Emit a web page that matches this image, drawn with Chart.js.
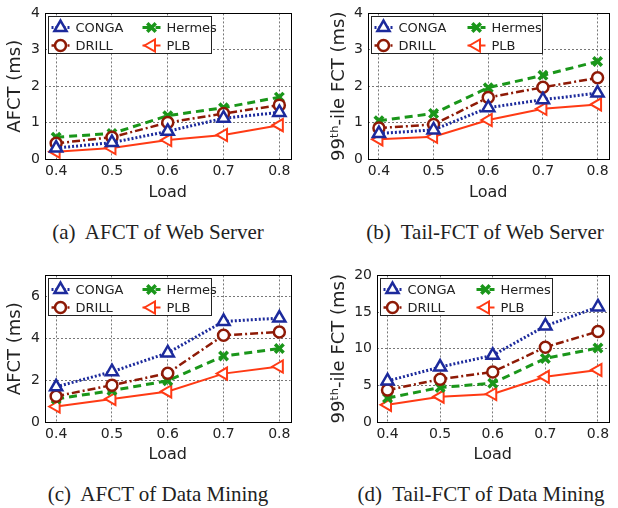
<!DOCTYPE html>
<html>
<head>
<meta charset="utf-8">
<script src="https://cdn.jsdelivr.net/npm/chart.js@4.4.0/dist/chart.umd.min.js"></script>
<style>
  body { margin: 0; background: #fff; width: 618px; height: 508px; position: relative; overflow: hidden; }
  .panel { position: absolute; }
  .cap { position: absolute; font-family: "Liberation Serif", "DejaVu Serif", serif; font-size: 21px; line-height: 21px; color: #222; white-space: pre; transform: translateX(-50%); }
</style>
</head>
<body>
<div class="panel" style="left:0;top:0"><canvas id="ca" width="300" height="205"></canvas></div>
<div class="panel" style="left:310px;top:0"><canvas id="cb" width="308" height="205"></canvas></div>
<div class="panel" style="left:0;top:262px"><canvas id="cc" width="300" height="205"></canvas></div>
<div class="panel" style="left:310px;top:262px"><canvas id="cd" width="308" height="205"></canvas></div>
<div class="cap" style="left:158px;top:222px">(a)  AFCT of Web Server</div>
<div class="cap" style="left:485px;top:222px">(b)  Tail-FCT of Web Server</div>
<div class="cap" style="left:158px;top:484px">(c)  AFCT of Data Mining</div>
<div class="cap" style="left:481px;top:484px">(d)  Tail-FCT of Data Mining</div>
<script>
const loads = [0.4, 0.5, 0.6, 0.7, 0.8];
const schemes = ['CONGA', 'DRILL', 'Hermes', 'PLB'];

// web server workload
const webAfctConga  = [0.30, 0.45, 0.76, 1.12, 1.28];
const webAfctDrill  = [0.43, 0.60, 1.00, 1.25, 1.48];
const webAfctHermes = [0.60, 0.70, 1.19, 1.41, 1.70];
const webAfctPlb    = [0.20, 0.30, 0.52, 0.66, 0.93];

const webTailConga  = [0.70, 0.80, 1.41, 1.63, 1.81];
const webTailDrill  = [0.85, 0.95, 1.69, 1.97, 2.23];
const webTailHermes = [1.05, 1.25, 1.96, 2.30, 2.68];
const webTailPlb    = [0.54, 0.61, 1.07, 1.38, 1.50];

// data mining workload
const dmAfctConga  = [1.68, 2.40, 3.30, 4.80, 4.96];
const dmAfctDrill  = [1.23, 1.76, 2.33, 4.14, 4.30];
const dmAfctHermes = [1.10, 1.50, 1.97, 3.15, 3.51];
const dmAfctPlb    = [0.74, 1.10, 1.46, 2.31, 2.65];

const dmTailConga  = [5.6, 7.5, 9.1, 13.1, 15.7];
const dmTailDrill  = [4.36, 5.84, 6.83, 10.2, 12.36];
const dmTailHermes = [3.28, 4.70, 5.30, 8.67, 10.1];
const dmTailPlb    = [2.34, 3.46, 3.82, 6.16, 7.10];

const txt = '#222';
const font = 'DejaVu Sans';

const styles = {
  CONGA:  { color: '#1c2a9c', dash: [2, 2],        width: 3,   pointStyle: 'triangle', rotation: 0,   radius: 7,   bw: 2.5 },
  DRILL:  { color: '#8e1a06', dash: [8, 3, 2, 3],  width: 2.5, pointStyle: 'circle',   rotation: 0,   radius: 5.5, bw: 2.5 },
  Hermes: { color: '#1a961a', dash: [8, 5],        width: 3,   pointStyle: 'crossRot', rotation: 0,   radius: 6,   bw: 3.5 },
  PLB:    { color: '#ff3a14', dash: [],            width: 2,   pointStyle: 'triangle', rotation: -90, radius: 7,   bw: 2 }
};

const framePlugin = {
  id: 'frame',
  afterDraw(chart) {
    const a = chart.chartArea, c = chart.ctx;
    c.save();
    c.strokeStyle = '#000';
    c.lineWidth = 1;
    c.strokeRect(Math.round(a.left) + 0.5, Math.round(a.top) + 0.5,
                 Math.round(a.right - a.left), Math.round(a.bottom - a.top));
    c.restore();
  }
};

const boxLegend = {
  id: 'boxLegend',
  afterDraw(chart, args, o) {
    const a = chart.chartArea, c = chart.ctx;
    const x0 = Math.round(a.left) + 3.5, y0 = Math.round(a.top) + 3.5;
    c.save();
    c.fillStyle = '#fff';
    c.fillRect(x0, y0, o.w, o.h);
    c.strokeStyle = '#222';
    c.lineWidth = 1;
    c.strokeRect(x0, y0, o.w, o.h);
    const order = [['CONGA', 0, 0], ['Hermes', 1, 0], ['DRILL', 0, 1], ['PLB', 1, 1]];
    c.font = '13px "' + font + '"';
    c.textBaseline = 'middle';
    order.forEach(([name, col, row]) => {
      const s = styles[name];
      const mx = x0 + (col ? o.col2 : 12);
      const my = y0 + 11 + row * 18;
      c.strokeStyle = s.color;
      c.lineWidth = s.width;
      c.setLineDash(s.dash);
      c.beginPath();
      c.moveTo(mx - 9, my);
      c.lineTo(mx + 9, my);
      c.stroke();
      c.setLineDash([]);
      c.fillStyle = '#fff';
      c.lineWidth = s.bw;
      Chart.helpers.drawPoint(c, { pointStyle: s.pointStyle, rotation: s.rotation, radius: s.radius, borderWidth: s.bw }, mx, my);
      c.fillStyle = txt;
      c.fillText(name, mx + 15, my + 1);
    });
    c.restore();
  }
};

function makeChart(id, series, cfg) {
  const datasets = schemes.map((name, i) => {
    const s = styles[name];
    return {
      label: name,
      data: loads.map((x, k) => ({ x: x, y: series[i][k] })),
      borderColor: s.color,
      backgroundColor: '#fff',
      borderWidth: s.width,
      borderDash: s.dash,
      pointStyle: s.pointStyle,
      pointRotation: s.rotation,
      pointRadius: s.radius,
      pointBorderWidth: s.bw,
      pointBackgroundColor: '#fff',
      pointBorderColor: s.color,
      tension: 0,
      clip: false
    };
  });
  return new Chart(document.getElementById(id), {
    type: 'line',
    data: { datasets: datasets },
    plugins: [framePlugin, boxLegend],
    options: {
      responsive: false,
      animation: false,
      layout: { padding: { left: 0, right: cfg.right, top: 11, bottom: 0 } },
      plugins: {
        legend: { display: false },
        tooltip: { enabled: false },
        boxLegend: { w: cfg.legW, h: 37, col2: cfg.col2 }
      },
      scales: {
        x: {
          type: 'linear',
          min: 0.38,
          max: 0.82,
          afterBuildTicks: (sc) => { sc.ticks = loads.map(v => ({ value: v })); },
          afterFit: (sc) => { sc.height = cfg.xh; },
          ticks: {
            color: txt,
            font: { family: font, size: 14 },
            padding: 4,
            maxRotation: 0,
            callback: (v) => v.toFixed(1)
          },
          grid: { color: '#777', lineWidth: 1, drawTicks: false },
          border: { display: false, dash: [2, 2] },
          title: { display: true, text: 'Load', color: txt, font: { family: font, size: 16 }, padding: { top: 0, bottom: 3 } }
        },
        y: {
          min: 0,
          max: cfg.ymax,
          ticks: {
            stepSize: cfg.step,
            includeBounds: false,
            color: txt,
            font: { family: font, size: 14 },
            padding: 5
          },
          afterFit: (sc) => { sc.width = cfg.yw; },
          grid: { color: '#777', lineWidth: 1, drawTicks: false },
          border: { display: false, dash: [2, 2] },
          title: { display: true, text: cfg.ytitle, color: txt, font: { family: font, size: 18 }, padding: { top: cfg.tpad, bottom: 0 } }
        }
      }
    }
  });
}

makeChart('ca', [webAfctConga, webAfctDrill, webAfctHermes, webAfctPlb],
  { ymax: 4, step: 1, ytitle: 'AFCT (ms)', yw: 45, right: 6, xh: 46, legW: 163, col2: 103, tpad: 5 });
makeChart('cb', [webTailConga, webTailDrill, webTailHermes, webTailPlb],
  { ymax: 4, step: 1, ytitle: '99ᵗʰ-ile FCT (ms)', yw: 58, right: 3, xh: 46, legW: 171, col2: 105, tpad: 19 });
makeChart('cc', [dmAfctConga, dmAfctDrill, dmAfctHermes, dmAfctPlb],
  { ymax: 7, step: 2, ytitle: 'AFCT (ms)', yw: 45, right: 6, xh: 45, legW: 163, col2: 103, tpad: 5 });
makeChart('cd', [dmTailConga, dmTailDrill, dmTailHermes, dmTailPlb],
  { ymax: 20, step: 5, ytitle: '99ᵗʰ-ile FCT (ms)', yw: 67, right: 2, xh: 45, legW: 172, col2: 105, tpad: 19 });
</script>
</body>
</html>
